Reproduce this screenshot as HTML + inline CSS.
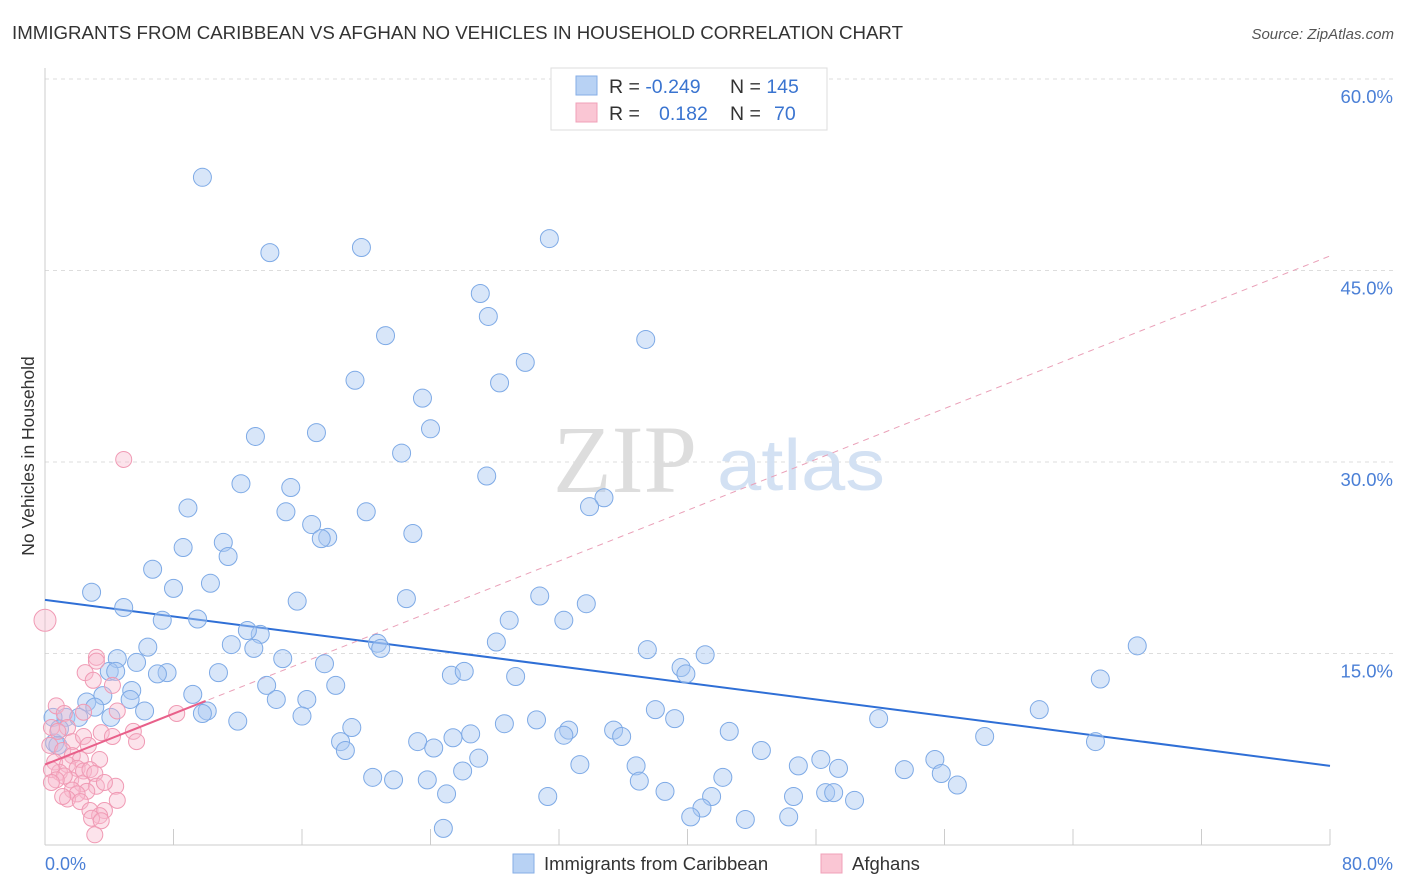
<!DOCTYPE html>
<html><head><meta charset="utf-8"><style>
body{margin:0;background:#fff;font-family:"Liberation Sans",sans-serif;}
svg{display:block}
</style></head><body>
<svg id="chart" width="1406" height="892">
<text x="12" y="39" font-size="18" fill="#333" textLength="891" lengthAdjust="spacingAndGlyphs">IMMIGRANTS FROM CARIBBEAN VS AFGHAN NO VEHICLES IN HOUSEHOLD CORRELATION CHART</text>
<text x="1394" y="39" font-size="15" font-style="italic" fill="#555" text-anchor="end">Source: ZipAtlas.com</text>
<g id="grid"></g>
<g>
<text x="553" y="492" font-family="Liberation Serif,serif" font-size="96" fill="#ddd">ZIP</text>
<text x="717" y="490" font-size="72" fill="#d3e1f3" textLength="168" lengthAdjust="spacingAndGlyphs">atlas</text>
</g>
<line x1="45" y1="68" x2="45" y2="845" stroke="#ccc"/>
<line x1="45" y1="845" x2="1330" y2="845" stroke="#ccc"/>
<g id="ticks"></g>
<g id="trend"></g>
<g id="pts"></g>
<text transform="translate(34,456) rotate(-90)" font-size="17.5" fill="#333" text-anchor="middle">No Vehicles in Household</text>
<text x="45" y="870" font-size="18" fill="#4a7fd6">0.0%</text>
<text x="1393" y="870" font-size="18" fill="#4a7fd6" text-anchor="end">80.0%</text>
<g>
<rect x="551" y="68" width="276" height="62" fill="#fff" stroke="#ddd"/>
<rect x="576" y="76" width="21" height="19" fill="#b8d2f4" stroke="#86aee6"/>
<rect x="576" y="103" width="21" height="19" fill="#fac6d4" stroke="#f0a0b8"/>
<text x="609" y="93" font-size="19.5" fill="#333">R = <tspan fill="#3a74d0">-0.249</tspan><tspan x="730">N = </tspan><tspan fill="#3a74d0">145</tspan></text>
<text x="609" y="120" font-size="19.5" fill="#333">R = <tspan x="659" fill="#3a74d0">0.182</tspan><tspan x="730">N = </tspan><tspan x="774" fill="#3a74d0">70</tspan></text>
</g>
<g>
<rect x="513" y="854" width="21" height="19" fill="#b8d2f4" stroke="#86aee6"/>
<text x="544" y="870" font-size="18.5" fill="#333">Immigrants from Caribbean</text>
<rect x="821" y="854" width="21" height="19" fill="#fac6d4" stroke="#f0a0b8"/>
<text x="852" y="870" font-size="18.5" fill="#333">Afghans</text>
</g>
</svg>
<script>
const yTicks=[15,30,45,60];
const yTickLabels=["15.0%","30.0%","45.0%","60.0%"];
const xTicks=[0,8,16,24,32,40,48,56,64,72,80];
const blueX=[9.8,14.0,19.7,31.4,27.1,27.6,21.2,37.4,29.9,19.3,28.3,23.5,13.1,16.9,24.0,22.2,27.5,12.2,15.3,34.8,33.9,8.9,15.0,20.0,16.6,17.6,17.2,11.1,22.9,8.6,11.4,6.7,10.3,8.0,2.9,30.8,33.7,22.5,15.7,4.9,9.5,7.3,28.9,32.3,13.4,12.6,28.1,11.6,13.0,20.7,20.9,6.4,4.5,5.7,37.5,41.1,14.8,17.4,39.6,39.9,25.3,26.1,7.6,7.0,10.8,4.0,4.4,29.3,68.0,65.7,13.8,18.1,5.4,3.6,9.2,16.3,14.4,2.6,5.3,3.1,6.2,10.1,4.1,1.3,2.1,16.0,12.0,38.0,39.2,51.9,61.9,30.6,28.6,19.1,32.6,32.3,26.5,25.4,35.4,35.9,42.6,18.4,18.7,23.2,24.2,65.4,58.5,44.6,48.3,55.4,46.9,49.4,26.0,27.0,33.3,36.8,9.8,0.6,0.5,20.4,21.7,23.8,42.2,55.8,56.8,53.5,37.0,38.6,31.3,25.0,41.5,46.6,48.6,49.1,50.4,40.9,40.2,43.6,46.3,24.8,0.9,0.8];
const blueY=[52.3,46.4,46.8,47.5,43.2,41.4,39.9,39.6,37.8,36.4,36.2,35.0,32.0,32.3,32.6,30.7,28.9,28.3,28.0,27.2,26.5,26.4,26.1,26.1,25.1,24.1,24.0,23.7,24.4,23.3,22.6,21.6,20.5,20.1,19.8,19.5,18.9,19.3,19.1,18.6,17.7,17.6,17.6,17.6,16.5,16.8,15.9,15.7,15.4,15.8,15.4,15.5,14.6,14.3,15.3,14.9,14.6,14.2,13.9,13.4,13.3,13.6,13.5,13.4,13.5,13.6,13.6,13.2,15.6,13.0,12.5,12.5,12.1,11.7,11.8,11.4,11.4,11.2,11.4,10.8,10.5,10.5,10.0,10.0,10.0,10.1,9.7,10.6,9.9,9.9,10.6,9.8,9.5,9.2,9.0,8.6,8.7,8.4,9.0,8.5,8.9,8.1,7.4,8.1,7.6,8.1,8.5,7.4,6.7,6.7,6.2,6.0,5.8,6.8,6.3,6.2,10.3,8.0,10.0,5.3,5.1,5.1,5.3,5.6,4.7,5.9,5.0,4.2,3.8,4.0,3.8,3.8,4.1,4.1,3.5,2.9,2.2,2.0,2.2,1.3,9.1,7.8];
const pinkX=[0,4.9,3.2,3.2,2.5,3.0,4.2,0.7,1.2,2.4,4.5,0.4,1.4,0.8,1.7,2.4,0.3,3.5,5.5,4.2,5.7,2.7,1.1,1.7,2.2,0.6,3.4,1.4,2.0,2.4,2.8,0.9,0.4,3.1,1.6,1.2,0.7,2.3,3.2,2.6,4.4,3.7,1.7,2.0,1.4,1.1,4.5,2.2,2.8,3.7,3.4,2.9,3.5,3.1,0.4,8.2];
const pinkY=[17.6,30.2,14.7,14.4,13.5,12.9,12.5,10.9,10.3,10.4,10.5,9.2,9.2,8.9,8.1,8.5,7.8,8.8,8.9,8.5,8.1,7.8,7.4,7.0,6.7,6.5,6.7,6.3,6.0,5.8,5.9,5.7,5.9,5.6,5.1,5.4,5.1,4.8,4.6,4.2,4.6,4.9,4.3,4.0,3.6,3.8,3.5,3.4,2.7,2.7,2.3,2.1,1.9,0.8,4.9,10.3];
const blueTrend=[19.2,-0.1625];
const pinkTrend=[6.3,0.498];
const xs=v=>45+v/80*1285, ys=v=>845-v/15*191.5;
const NS="http://www.w3.org/2000/svg";
function mk(t,a,p){const e=document.createElementNS(NS,t);for(const k in a)e.setAttribute(k,a[k]);p.appendChild(e);return e;}
const grid=document.getElementById('grid');
yTicks.forEach((t,i)=>{
 const l=mk('line',{x1:45,x2:1393,y1:ys(t),y2:ys(t),stroke:'#ddd','stroke-dasharray':'4,4'},grid);
 
 
 const tx=mk('text',{x:1393,y:ys(t)+24,'font-size':18.5,fill:'#4a7fd6','text-anchor':'end'},grid);
 tx.textContent=yTickLabels[i];
 
 
});
const tk=document.getElementById('ticks');
xTicks.forEach(t=>{
 const l=mk('line',{x1:xs(t),x2:xs(t),y1:829,y2:845,stroke:'#ccc'},tk);
 
 
});
const pts=document.getElementById('pts');
blueX.forEach((x,i)=>{
 const c=mk('circle',{cx:xs(x),cy:ys(blueY[i]),r:9,fill:'rgba(168,200,242,0.45)',stroke:'#7eaae6','stroke-width':1},pts);
 
 
});
pinkX.forEach((x,i)=>{
 const c=mk('circle',{cx:xs(x),cy:ys(pinkY[i]),r:i==0?11:8,fill:'rgba(248,185,205,0.4)',stroke:'#f09ab4','stroke-width':1},pts);
 
 
});
const tr=document.getElementById('trend');
const b=mk('line',{x1:xs(0),y1:ys(blueTrend[0]),x2:xs(80),y2:ys(blueTrend[0]+blueTrend[1]*80),stroke:'#2f6fd6','stroke-width':2},tr);


const pd=mk('line',{x1:xs(0),y1:ys(pinkTrend[0]),x2:xs(80),y2:ys(pinkTrend[0]+pinkTrend[1]*80),stroke:'#eaa0b8','stroke-width':1,'stroke-dasharray':'6,5'},tr);


const ps=mk('line',{x1:xs(0),y1:ys(pinkTrend[0]),x2:xs(10),y2:ys(pinkTrend[0]+pinkTrend[1]*10),stroke:'#e8608a','stroke-width':2},pts);


</script>
</body></html>
